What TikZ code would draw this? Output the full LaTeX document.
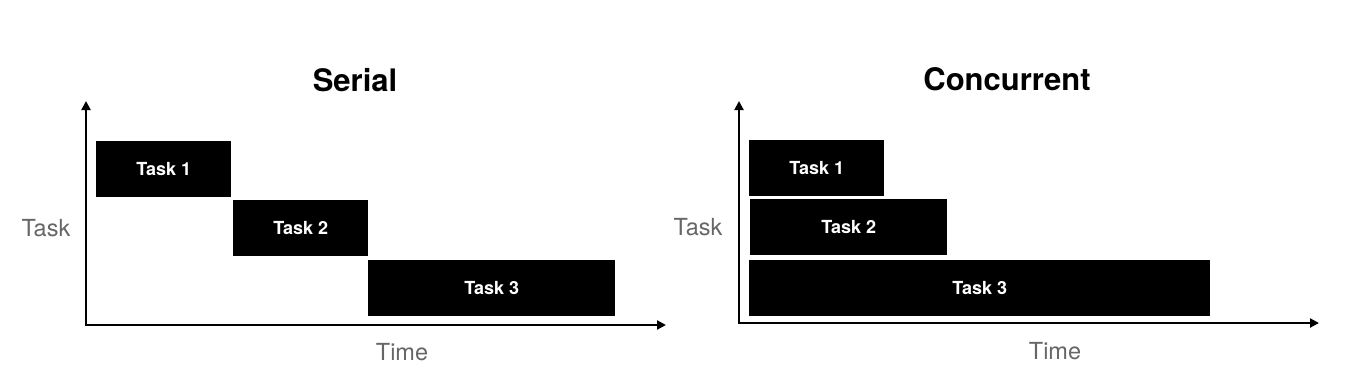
\documentclass[tikz,border=0pt]{standalone}
\usepackage{fontspec}
\setmainfont{TeX Gyre Heros}
\usetikzlibrary{arrows.meta}
\definecolor{labelgray}{HTML}{666666}
\tikzset{
  taskbox/.style={fill=black, draw=none, anchor=north west, text=white,
    font=\fontsize{18}{20}\selectfont\bfseries, inner sep=0pt},
  axisline/.style={line width=2pt, -{Triangle[length=9pt,width=9pt]}},
  axislabel/.style={text=labelgray, font=\fontsize{23.5}{28}\selectfont},
  paneltitle/.style={font=\fontsize{31}{36}\selectfont\bfseries}
}
\begin{document}
\begin{tikzpicture}[x=1pt,y=-1pt]
\useasboundingbox (0,0) rectangle (1348,388);
% ---- Serial panel ----
\coordinate (so) at (86,325);
\coordinate (sy) at (86,101);
\coordinate (sx) at (666,325);
\draw[axisline] (so) -- (sy);
\draw[axisline] ([xshift=-1pt]so) -- (sx);
\node[paneltitle] (stitle) at (355,80) {Serial};
\node[axislabel] (stask) at (46,228) {Task};
\node[axislabel] (stime) at (402,352) {Time};
\node[taskbox, minimum width=135pt, minimum height=56pt] (s1) at (96,141) {Task 1};
\node[taskbox, minimum width=135pt, minimum height=56pt] (s2) at (233,200) {Task 2};
\node[taskbox, minimum width=247pt, minimum height=56pt] (s3) at (368,260) {Task 3};
% ---- Concurrent panel ----
\coordinate (co) at (739,323);
\coordinate (cy) at (739,101);
\coordinate (cx) at (1319,323);
\draw[axisline] (co) -- (cy);
\draw[axisline] ([xshift=-1pt]co) -- (cx);
\node[paneltitle] (ctitle) at (1007,79) {Concurrent};
\node[axislabel] (ctask) at (698,227) {Task};
\node[axislabel] (ctime) at (1055,351) {Time};
\node[taskbox, minimum width=135pt, minimum height=56pt] (c1) at (749,140) {Task 1};
\node[taskbox, minimum width=197pt, minimum height=56pt] (c2) at (750,199) {Task 2};
\node[taskbox, minimum width=461pt, minimum height=56pt] (c3) at (749,260) {Task 3};
\end{tikzpicture}
\end{document}
